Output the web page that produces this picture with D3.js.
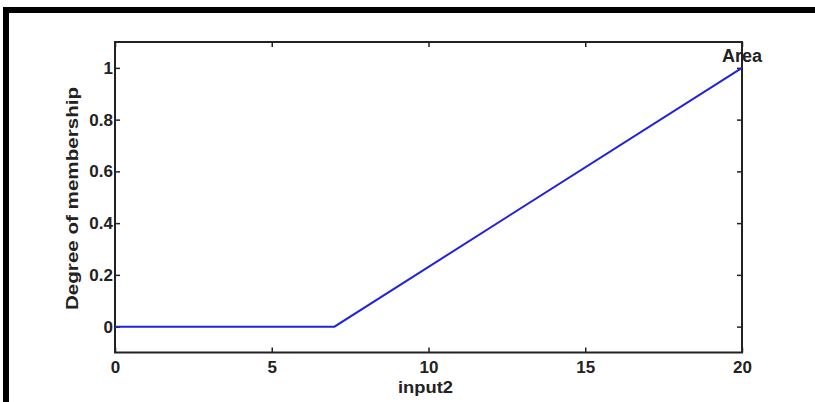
<!DOCTYPE html>
<html><head><meta charset="utf-8">
<script src="https://cdn.jsdelivr.net/npm/d3@7"></script>
<style>html,body{margin:0;padding:0;background:#fff;}svg{display:block;}</style>
</head><body>
<svg id="c" width="815" height="402"></svg>
<script>
const xs = [0, 7, 20];
const ys = [0, 0, 1];
const xTicks = [0, 5, 10, 15, 20];
const yTicks = [0, 0.2, 0.4, 0.6, 0.8, 1];
const xDomain = [0, 20];
const yDomain = [-0.1, 1.1];
const xLabel = "input2";
const yLabel = "Degree of membership";
const mfName = "Area";

const svg = d3.select("#c");
const L = 115, R = 742, T = 42, B = 352.5;
const x = d3.scaleLinear().domain(xDomain).range([L, R]);
const y = d3.scaleLinear().domain(yDomain).range([B, T]);
const font = "'Liberation Sans', Arial, sans-serif";

// frame borders of the figure
svg.append("rect").attr("x", 3).attr("y", 7).attr("width", 812).attr("height", 6).attr("fill", "#000");
svg.append("rect").attr("x", 3).attr("y", 7).attr("width", 6).attr("height", 395).attr("fill", "#000");

const tickLen = 5;
const axStyle = g => {
  g.selectAll(".domain").remove();
  g.selectAll(".tick line").attr("stroke", "#222").attr("stroke-width", 1.5);
  g.selectAll(".tick text").attr("font-family", font).attr("font-weight", "bold")
    .attr("font-size", 17).attr("fill", "#222");
};
// bottom
svg.append("g").attr("transform", `translate(0,${B})`)
  .call(d3.axisBottom(x).tickValues(xTicks).tickFormat(d3.format("d")).tickSizeInner(-tickLen).tickSizeOuter(0).tickPadding(8))
  .call(axStyle);
// top
svg.append("g").attr("transform", `translate(0,${T})`)
  .call(d3.axisTop(x).tickValues(xTicks).tickFormat("").tickSizeInner(-tickLen).tickSizeOuter(0))
  .call(axStyle);
// left
svg.append("g").attr("transform", `translate(${L},0)`)
  .call(d3.axisLeft(y).tickValues(yTicks).tickFormat(d => d3.format("")(+d.toFixed(1))).tickSizeInner(-tickLen).tickSizeOuter(0).tickPadding(2))
  .call(axStyle);
// right
svg.append("g").attr("transform", `translate(${R},0)`)
  .call(d3.axisRight(y).tickValues(yTicks).tickFormat("").tickSizeInner(-tickLen).tickSizeOuter(0))
  .call(axStyle);

// box
svg.append("rect").attr("x", L).attr("y", T).attr("width", R - L).attr("height", B - T)
  .attr("fill", "none").attr("stroke", "#222").attr("stroke-width", 2);

// membership function line
const pts = xs.map((v, i) => [v, ys[i]]);
svg.append("path").datum(pts)
  .attr("d", d3.line().x(d => x(d[0])).y(d => y(d[1])))
  .attr("fill", "none").attr("stroke", "#2222dd").attr("stroke-width", 2);

// name label
svg.append("text").attr("x", x(xs[xs.length - 1])).attr("y", y(ys[ys.length - 1]) - 6)
  .attr("text-anchor", "middle").attr("font-family", font).attr("font-weight", "bold")
  .attr("font-size", 18).attr("fill", "#222").text(mfName);

// axis labels
svg.append("text").attr("x", (L + R) / 2 - 3).attr("y", 393)
  .attr("text-anchor", "middle").attr("font-family", font).attr("font-weight", "bold")
  .attr("font-size", 17).attr("fill", "#222")
  .attr("textLength", 55).attr("lengthAdjust", "spacingAndGlyphs").text(xLabel);

svg.append("text").attr("transform", `translate(78,${(87 + 310) / 2}) rotate(-90)`)
  .attr("text-anchor", "middle").attr("font-family", font).attr("font-weight", "bold")
  .attr("font-size", 17).attr("fill", "#222")
  .attr("textLength", 223).attr("lengthAdjust", "spacingAndGlyphs").text(yLabel);
</script>
</body></html>
